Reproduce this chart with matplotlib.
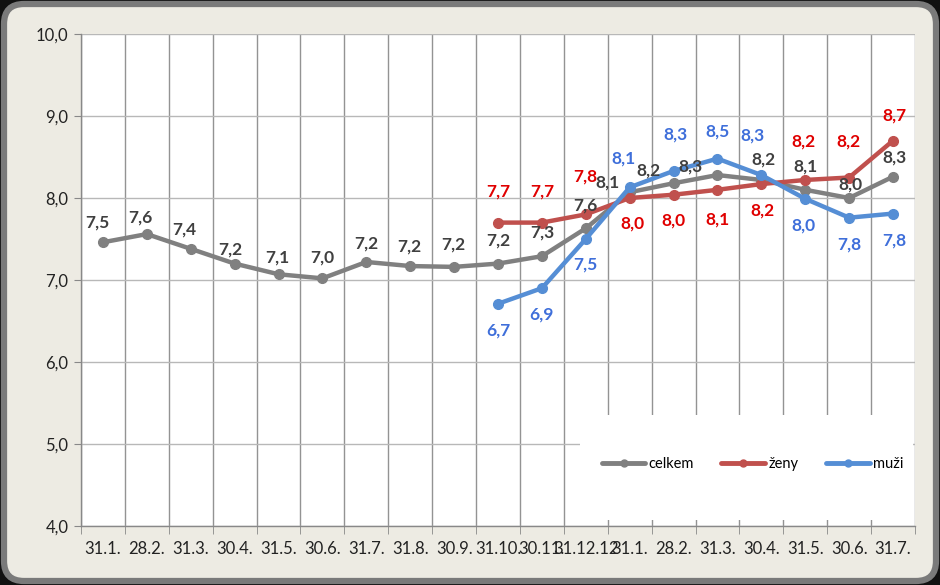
import matplotlib
matplotlib.use("Agg")
import matplotlib.pyplot as plt
from matplotlib.patches import FancyBboxPatch, Rectangle
import numpy as np

categories = ["31.1.", "28.2.", "31.3.", "30.4.", "31.5.", "30.6.", "31.7.", "31.8.",
              "30.9.", "31.10.", "30.11.", "31.12.12", "31.1.", "28.2.", "31.3.",
              "30.4.", "31.5.", "30.6.", "31.7."]

celkem = [7.46, 7.56, 7.38, 7.20, 7.07, 7.02, 7.22, 7.17, 7.16, 7.20, 7.29, 7.63,
          8.07, 8.18, 8.28, 8.22, 8.10, 8.00, 8.26]
zeny = [None] * 9 + [7.70, 7.70, 7.80, 8.00, 8.04, 8.10, 8.17, 8.22, 8.25, 8.70]
muzi = [None] * 9 + [6.71, 6.90, 7.50, 8.13, 8.33, 8.48, 8.28, 7.99, 7.76, 7.81]

celkem_labels = ["7,5", "7,6", "7,4", "7,2", "7,1", "7,0", "7,2", "7,2", "7,2", "7,2",
                 "7,3", "7,6", "8,1", "8,2", "8,3", "8,2", "8,1", "8,0", "8,3"]
zeny_labels = [None] * 9 + ["7,7", "7,7", "7,8", "8,0", "8,0", "8,1", "8,2", "8,2", "8,2", "8,7"]
muzi_labels = [None] * 9 + ["6,7", "6,9", "7,5", "8,1", "8,3", "8,5", "8,3", "8,0", "7,8", "7,8"]

# label offsets in pixels (dx, dy up-positive)
celkem_off = [(-6, 20), (-6, 17), (-6, 19), (-4, 14), (-1, 17), (0, 21), (0, 18), (-1, 20),
              (-1, 22), (0, 23), (0, 24), (0, 23), (-22, 10), (-25, 13), (-27, 9),
              (2, 20), (0, 23), (1, 13), (1, 19)]
zeny_off = [None] * 9 + [(0, 31), (0, 31), (0, 38), (3, -26), (0, -26), (0, -30),
                         (1, -26), (-2, 38), (-1, 36), (1, 25)]
muzi_off = [None] * 9 + [(0, -27), (0, -26), (0, -26), (-6, 29), (2, 36), (0, 27),
                         (-9, 40), (-2, -27), (0, -27), (1, -27)]

W, H = 940, 585
fig = plt.figure(figsize=(W / 100, H / 100), dpi=100)
fig.patch.set_facecolor("#111111")
frame = FancyBboxPatch((4, 4), W - 8, H - 8, boxstyle="round,pad=0,rounding_size=20",
                       transform=None, facecolor="#EDEBE3", edgecolor="#7a7a7a",
                       linewidth=4.5, zorder=-10)
fig.patches.append(frame)

ax = fig.add_axes([81 / W, 1 - 526 / H, (915 - 81) / W, (526 - 34) / H])
ax.set_facecolor("white")

x = np.arange(len(categories))
FAM = ["Lato", "DejaVu Sans"]

def to_arr(v):
    return np.array([np.nan if a is None else a for a in v], dtype=float)

series = [
    ("celkem", celkem, celkem_labels, celkem_off, "#808080", "#404040"),
    ("ženy", zeny, zeny_labels, zeny_off, "#C0504D", "#E00000"),
    ("muži", muzi, muzi_labels, muzi_off, "#558ED5", "#3F6FDA"),
]

lines = []
for name, vals, labs, offs, col, tcol in series:
    y = to_arr(vals)
    ln, = ax.plot(x, y, color=col, linewidth=3.2, marker="o", markersize=7,
                  markerfacecolor=col, markeredgecolor=col, label=name,
                  solid_capstyle="round", zorder=3)
    lines.append(ln)
    for i, (v, lb, of) in enumerate(zip(vals, labs, offs)):
        if v is None:
            continue
        ax.annotate(lb, (x[i], v), xytext=of, textcoords="offset pixels",
                    ha="center", va="center", fontsize=12.5, fontweight="bold",
                    color=tcol, family=FAM, zorder=5)

ax.set_xlim(-0.5, len(categories) - 0.5)
ax.set_ylim(4.0, 10.0)
yt = np.arange(4.0, 10.01, 1.0)
ax.set_yticks(yt)
ax.set_yticklabels([f"{v:.1f}".replace(".", ",") for v in yt],
                   family=FAM, fontsize=12, color="#222222")
ax.set_xticks(x)
ax.set_xticklabels(categories, family=FAM, fontsize=12, color="#222222")
ax.set_xticks(np.arange(-0.5, len(categories), 1.0), minor=True)
ax.tick_params(axis="x", which="major", length=0, pad=11)
ax.tick_params(axis="x", which="minor", length=6, color="#888888", direction="out")
ax.tick_params(axis="y", length=5, color="#888888", direction="out", pad=4)

ax.set_axisbelow(True)
ax.grid(True, axis="y", which="major", color="#B8B8B8", linewidth=1)
ax.grid(True, axis="x", which="minor", color="#939393", linewidth=1)
for s in ["top", "right"]:
    ax.spines[s].set_visible(False)
for s in ["left", "bottom"]:
    ax.spines[s].set_color("#888888")
    ax.spines[s].set_linewidth(1)

# white legend area covering gridlines
ax.add_patch(Rectangle((0.598, 0.012), 0.40, 0.214, transform=ax.transAxes,
                       facecolor="white", edgecolor="none", zorder=1))
leg = ax.legend(handles=lines, loc="center", bbox_to_anchor=(0.805, 0.126), ncol=3,
                frameon=False, handlelength=3.0, handletextpad=0.2,
                columnspacing=1.9, prop={"family": FAM, "size": 10.5})
for h in leg.legend_handles:
    h.set_markersize(5)
    h.set_linewidth(3.5)

fig.savefig("out.png", dpi=100, facecolor=fig.get_facecolor())
